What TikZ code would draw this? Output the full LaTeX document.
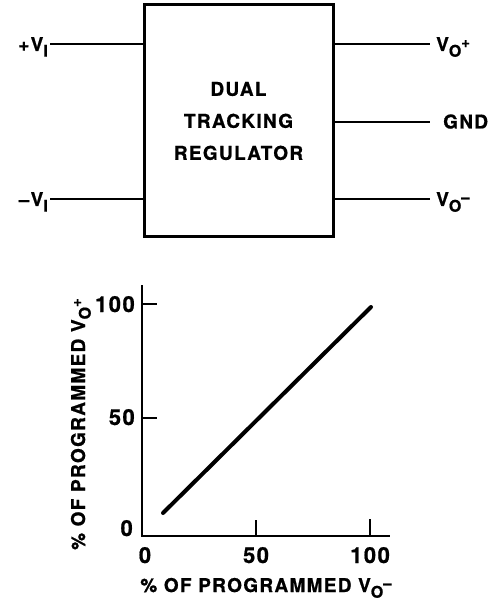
\documentclass[tikz,border=0pt]{standalone}
\usepackage{fontspec}
\setmainfont{TeX Gyre Heros}
\newfontfamily\lab[LetterSpace=7, BoldFeatures={FakeBold=0.8}]{TeX Gyre Heros}
\newcommand{\sbs}[1]{\raisebox{-0.55ex}{\fontsize{16}{16}\selectfont #1}}
\newcommand{\sps}[1]{\raisebox{0.35ex}{\fontsize{15}{15}\selectfont #1}}
\begin{document}
\begin{tikzpicture}[x=1pt,y=-1pt,
  txt/.style={font=\lab\bfseries\fontsize{19}{32}\selectfont, inner sep=0pt},
  num/.style={font=\lab\bfseries\fontsize{22}{24}\selectfont, inner sep=0pt},
  wire/.style={line width=2.2pt},
  boxst/.style={draw, line width=3pt, minimum width=189pt, minimum height=232pt, inner sep=0pt, align=center}]
\useasboundingbox (0,0) rectangle (492,601);
% block
\node[boxst, txt] (reg) at (238.5,121) {DUAL\\TRACKING\\REGULATOR};
\coordinate (pi) at (50,44);
\coordinate (mi) at (50,199);
\coordinate (po) at (430,44);
\coordinate (gd) at (430,122);
\coordinate (mo) at (430,199);
\draw[wire] (pi) -- (reg.west |- pi);
\draw[wire] (mi) -- (reg.west |- mi);
\draw[wire] (reg.east |- po) -- (po);
\draw[wire] (reg.east |- gd) -- (gd);
\draw[wire] (reg.east |- mo) -- (mo);
\node[txt, anchor=base east] (lpi) at (48,51) {+V\sbs{I}};
\node[txt, anchor=base east] (lmi) at (48,206) {–V\sbs{I}};
\node[txt, anchor=base west] (lpo) at (436,51) {V\sbs{O}\sps{+}};
\node[txt, anchor=base west] (lgd) at (443,128.5) {GND};
\node[txt, anchor=base west] (lmo) at (436,206) {V\sbs{O}\sps{–}};
% plot
\coordinate (org) at (142,536);
\draw[line width=2.6pt] (142,285) -- (org) -- (390,536);
\draw[line width=2.6pt] (142,304) -- (157,304);
\draw[line width=2.6pt] (142,418) -- (157,418);
\draw[line width=2.6pt] (256,536) -- (256,520);
\draw[line width=2.6pt] (370,536) -- (370,519);
\coordinate (ca) at (163,513);
\coordinate (cb) at (371,307);
\draw[line width=4pt, line cap=round] (ca) -- (cb);
\node[num, anchor=base east] (y100) at (135,312) {100};
\node[num, anchor=base east] (y50) at (135,425) {50};
\node[num, anchor=base east] (y0) at (133,536) {0};
\node[num, anchor=base] (x0) at (145,563) {0};
\node[num, anchor=base] (x50) at (256,563) {50};
\node[num, anchor=base] (x100) at (370,563) {100};
\node[txt, anchor=base] (xl) at (266,592) {\% OF PROGRAMMED V\sbs{O}\sps{–}};
\node[txt, anchor=base, rotate=90] (yl) at (85,424) {\% OF PROGRAMMED V\sbs{O}\sps{+}};
\end{tikzpicture}
\end{document}
